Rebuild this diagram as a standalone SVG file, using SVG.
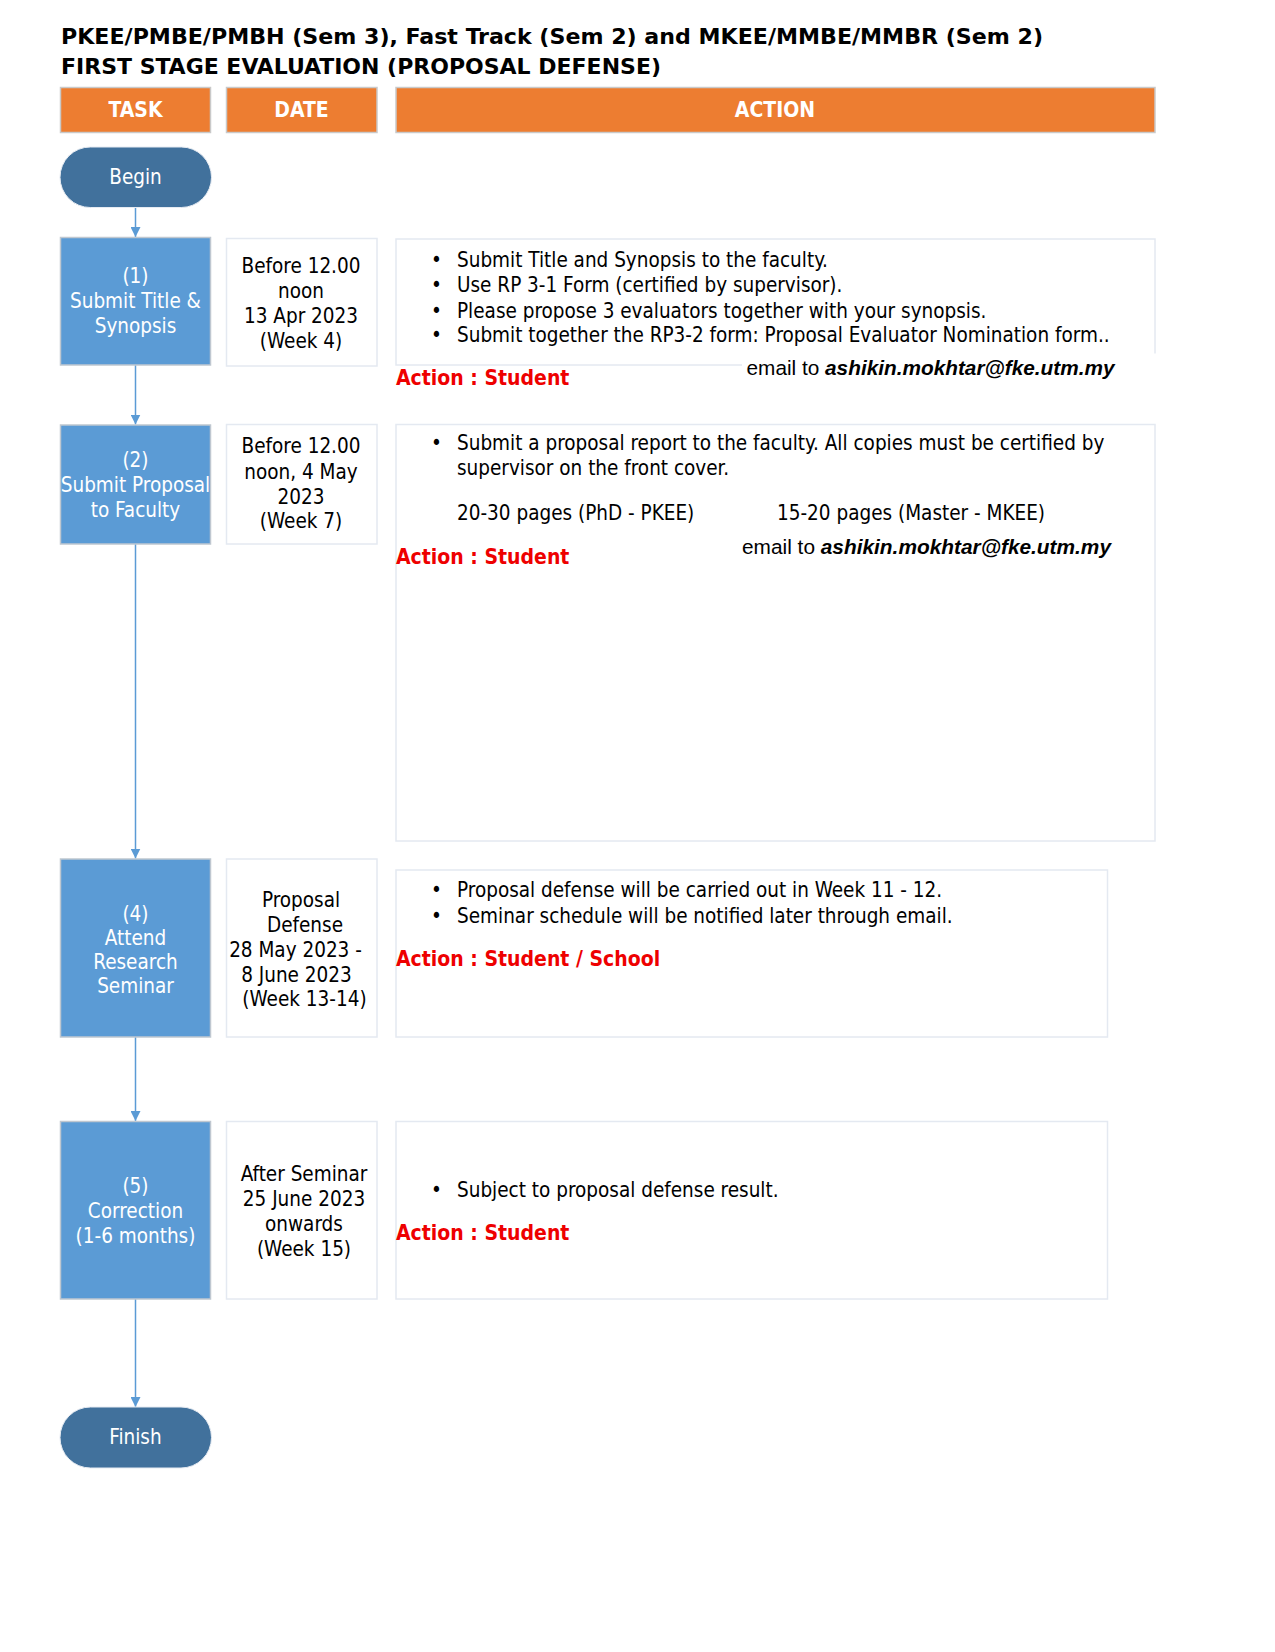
<svg xmlns="http://www.w3.org/2000/svg" width="1275" height="1652" viewBox="0 0 1275 1652">
<style>
  text { font-family: "DejaVu Sans Condensed", "DejaVu Sans", "Liberation Sans", sans-serif; }
  .title { font-size: 20.5px; font-weight: bold; fill: #000; }
  .hdr { fill: #ED7D31; stroke: #C9C9C9; stroke-width: 1.5; }
  .hdrt { font-size: 21px; font-weight: bold; fill: #fff; text-anchor: middle; }
  .term { fill: #41719C; stroke: #E6EBF2; stroke-width: 1; }
  .task { fill: #5B9BD5; stroke: #BFC7D0; stroke-width: 1.5; }
  .wt { font-size: 20.5px; fill: #fff; text-anchor: middle; }
  .box { fill: #fff; stroke: #E4E9F1; stroke-width: 1.5; }
  .bt { font-size: 20.5px; fill: #000; }
  .ct { font-size: 20.5px; fill: #000; text-anchor: middle; }
  .red { font-size: 21px; font-weight: bold; fill: #EE0000; }
  .mail { font-family: "Liberation Sans", Arial, sans-serif; font-size: 20.5px; fill: #000; }
  .mail tspan.b { font-weight: bold; font-style: italic; }
  .conn { stroke: #5B9BD5; stroke-width: 1.5; fill: none; marker-end: url(#arr); }
</style>
<defs>
  <marker id="arr" viewBox="0 0 10 10" refX="10" refY="5" markerWidth="10" markerHeight="10" markerUnits="userSpaceOnUse" orient="auto">
    <path d="M0,0 L10,5 L0,10 Z" fill="#5B9BD5"/>
  </marker>
</defs>
<rect width="1275" height="1652" fill="#fff"/>

<g id="title">
  <text class="title" x="61" y="43.5" textLength="982" lengthAdjust="spacingAndGlyphs">PKEE/PMBE/PMBH (Sem 3), Fast Track (Sem 2) and MKEE/MMBE/MMBR (Sem 2)</text>
  <text class="title" x="61" y="73.5" textLength="600" lengthAdjust="spacingAndGlyphs">FIRST STAGE EVALUATION (PROPOSAL DEFENSE)</text>
</g>

<g id="header-task"><rect class="hdr" x="60.5" y="87.5" width="150" height="45"/><text class="hdrt" x="135.5" y="117">TASK</text></g>
<g id="header-date"><rect class="hdr" x="226.5" y="87.5" width="150.5" height="45"/><text class="hdrt" x="301.5" y="117">DATE</text></g>
<g id="header-action"><rect class="hdr" x="396" y="87.5" width="759" height="45"/><text class="hdrt" x="775" y="117">ACTION</text></g>

<g id="connectors">
  <line class="conn" x1="135.5" y1="208" x2="135.5" y2="237"/>
  <line class="conn" x1="135.5" y1="365" x2="135.5" y2="424.5"/>
  <line class="conn" x1="135.5" y1="544" x2="135.5" y2="858.5"/>
  <line class="conn" x1="135.5" y1="1037" x2="135.5" y2="1121"/>
  <line class="conn" x1="135.5" y1="1299" x2="135.5" y2="1407"/>
</g>

<g id="begin">
  <rect class="term" x="60" y="147" width="151.5" height="60.5" rx="30.25" ry="30.25"/>
  <text class="wt" x="135.5" y="183.5">Begin</text>
</g>

<g id="task1">
  <rect class="task" x="60.5" y="237.5" width="150" height="127.5"/>
  <text class="wt" x="135.5" y="283">(1)</text>
  <text class="wt" x="135.5" y="308">Submit Title &amp;</text>
  <text class="wt" x="135.5" y="333">Synopsis</text>
</g>
<g id="date1">
  <rect class="box" x="226.5" y="238.5" width="150.5" height="127.5"/>
  <text class="ct" x="301" y="273">Before 12.00</text>
  <text class="ct" x="301" y="298">noon</text>
  <text class="ct" x="301" y="323">13 Apr 2023</text>
  <text class="ct" x="301" y="348">(Week 4)</text>
</g>
<g id="action1">
  <rect class="box" x="396" y="239" width="759" height="126"/>
  <text class="bt" x="431" y="267">•</text><text class="bt" x="457" y="267">Submit Title and Synopsis to the faculty.</text>
  <text class="bt" x="431" y="292">•</text><text class="bt" x="457" y="292">Use RP 3-1 Form (certified by supervisor).</text>
  <text class="bt" x="431" y="317.5">•</text><text class="bt" x="457" y="317.5">Please propose 3 evaluators together with your synopsis.</text>
  <text class="bt" x="431" y="342">•</text><text class="bt" x="457" y="342">Submit together the RP3-2 form: Proposal Evaluator Nomination form..</text>
  <text class="red" x="396" y="385">Action : Student</text>
  <rect x="742" y="353.5" width="420" height="36" fill="#fff"/>
  <text class="mail" x="746.5" y="375" textLength="368" lengthAdjust="spacingAndGlyphs">email to <tspan class="b">ashikin.mokhtar@fke.utm.my</tspan></text>
</g>

<g id="task2">
  <rect class="task" x="60.5" y="425" width="150" height="119"/>
  <text class="wt" x="135.5" y="466.5">(2)</text>
  <text class="wt" x="135.5" y="491.5">Submit Proposal</text>
  <text class="wt" x="135.5" y="516.5">to Faculty</text>
</g>
<g id="date2">
  <rect class="box" x="226.5" y="424.5" width="150.5" height="119.5"/>
  <text class="ct" x="301" y="453">Before 12.00</text>
  <text class="ct" x="301" y="478.5">noon, 4 May</text>
  <text class="ct" x="301" y="503.5">2023</text>
  <text class="ct" x="301" y="528">(Week 7)</text>
</g>
<g id="action2">
  <rect class="box" x="396" y="424.5" width="759" height="416.5"/>
  <text class="bt" x="431" y="450">•</text><text class="bt" x="457" y="450">Submit a proposal report to the faculty. All copies must be certified by</text>
  <text class="bt" x="457" y="475">supervisor on the front cover.</text>
  <text class="bt" x="457" y="520">20-30 pages (PhD - PKEE)</text>
  <text class="bt" x="777" y="520">15-20 pages (Master - MKEE)</text>
  <text class="red" x="396" y="564">Action : Student</text>
  <text class="mail" x="742" y="554" textLength="369" lengthAdjust="spacingAndGlyphs">email to <tspan class="b">ashikin.mokhtar@fke.utm.my</tspan></text>
</g>

<g id="task4">
  <rect class="task" x="60.5" y="859" width="150" height="178"/>
  <text class="wt" x="135.5" y="921">(4)</text>
  <text class="wt" x="135.5" y="944.5">Attend</text>
  <text class="wt" x="135.5" y="968.5">Research</text>
  <text class="wt" x="135.5" y="992.5">Seminar</text>
</g>
<g id="date4">
  <rect class="box" x="226.5" y="859" width="150.5" height="178"/>
  <text class="ct" x="301" y="906.5">Proposal</text>
  <text class="ct" x="305" y="931.5">Defense</text>
  <text class="ct" x="295.5" y="957">28 May 2023 -</text>
  <text class="ct" x="296.5" y="981.5">8 June 2023</text>
  <text class="ct" x="304.5" y="1006">(Week 13-14)</text>
</g>
<g id="action4">
  <rect class="box" x="396" y="870" width="711.5" height="167"/>
  <text class="bt" x="431" y="896.5">•</text><text class="bt" x="457" y="896.5">Proposal defense will be carried out in Week 11 - 12.</text>
  <text class="bt" x="431" y="922.5">•</text><text class="bt" x="457" y="922.5">Seminar schedule will be notified later through email.</text>
  <text class="red" x="396" y="966">Action : Student / School</text>
</g>

<g id="task5">
  <rect class="task" x="60.5" y="1121.5" width="150" height="177.5"/>
  <text class="wt" x="135.5" y="1193">(5)</text>
  <text class="wt" x="135.5" y="1218">Correction</text>
  <text class="wt" x="135.5" y="1243">(1-6 months)</text>
</g>
<g id="date5">
  <rect class="box" x="226.5" y="1121.5" width="150.5" height="177.5"/>
  <text class="ct" x="304" y="1181">After Seminar</text>
  <text class="ct" x="304" y="1206">25 June 2023</text>
  <text class="ct" x="304" y="1230.5">onwards</text>
  <text class="ct" x="304" y="1255.5">(Week 15)</text>
</g>
<g id="action5">
  <rect class="box" x="396" y="1121.5" width="711.5" height="177.5"/>
  <text class="bt" x="431" y="1196.5">•</text><text class="bt" x="457" y="1196.5">Subject to proposal defense result.</text>
  <text class="red" x="396" y="1240">Action : Student</text>
</g>

<g id="finish">
  <rect class="term" x="60" y="1407" width="151.5" height="61" rx="30.5" ry="30.5"/>
  <text class="wt" x="135.5" y="1443.5">Finish</text>
</g>
</svg>
